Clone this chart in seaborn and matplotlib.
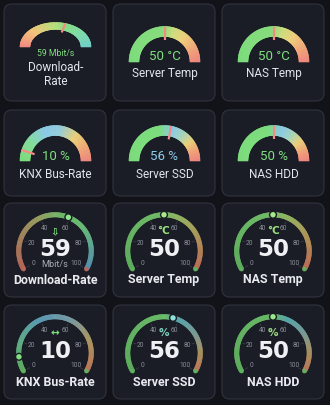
import numpy as np
import matplotlib
matplotlib.use("Agg")
import matplotlib.pyplot as plt
import seaborn as sns
from matplotlib.patches import FancyBboxPatch, Circle
from matplotlib.collections import PolyCollection
from matplotlib.colors import LinearSegmentedColormap

# ---------------- data ----------------
semi_titles = ["Download-\nRate", "Server Temp", "NAS Temp", "KNX Bus-Rate", "Server SSD", "NAS HDD"]
semi_values = [59, 50, 50, 10, 56, 50]
semi_units = ["Mbit/s", "°C", "°C", "%", "%", "%"]
semi_schemes = ["rainbow", "temp", "temp", "bus", "disk", "disk"]

dial_titles = ["Download-Rate", "Server Temp", "NAS Temp", "KNX Bus-Rate", "Server SSD", "NAS HDD"]
dial_values = [59, 50, 50, 10, 56, 50]
dial_icons = ["⇩", "°C", "°C", "↔", "%", "%"]
dial_subunits = ["Mbit/s", "", "", "", "", ""]
dial_schemes = ["rainbow", "temp", "temp", "bus", "disk", "disk"]
tick_labels = [0, 20, 40, 60, 80, 100]

# ---------------- style ----------------
BG = "#111318"
CARD = "#1b1d26"
EDGE = "#2e313b"
sns.set_theme(style="dark", rc={"figure.facecolor": BG, "axes.facecolor": BG})
plt.rcParams["font.family"] = ["Roboto", "DejaVu Sans"]

semi_stops = {
    "rainbow": [(0, "#f28b82"), (0.25, "#f5c57a"), (0.5, "#b8e27e"), (0.62, "#88e08a"),
                (0.8, "#7fdcaa"), (1, "#74cfc8")],
    "temp": [(0, "#7fe07f"), (0.48, "#8ae07f"), (0.6, "#d2e080"), (0.72, "#f2d27e"),
             (0.88, "#f3a57c"), (1, "#f28b82")],
    "bus": [(0, "#7fe07f"), (0.2, "#86e09c"), (0.4, "#8dcdec"), (0.55, "#98d0dc"),
            (0.72, "#ecd37c"), (0.88, "#f4a878"), (1, "#f28b82")],
    "disk": [(0, "#7fe07f"), (0.45, "#7fe07f"), (0.58, "#8dcdec"), (0.7, "#a8d8bc"),
             (0.8, "#ecd37c"), (0.92, "#f4a07a"), (1, "#f28b82")],
}
dial_stops = {
    "rainbow": [(0, "#b8665a"), (0.2, "#a8825c"), (0.38, "#9aa062"), (0.55, "#6fbf6a"),
                (0.7, "#6cbf78"), (0.85, "#5fa998"), (1, "#5890b0")],
    "temp": [(0, "#5fb05f"), (0.45, "#72c06a"), (0.55, "#8abf66"), (0.7, "#a8a85e"),
             (0.85, "#b88a58"), (1, "#c06e58")],
    "bus": [(0, "#5fb05f"), (0.2, "#62b08a"), (0.4, "#5d9db8"), (0.6, "#7a9ea8"),
            (0.8, "#b09a62"), (1, "#c0785a")],
    "disk": [(0, "#5fb05f"), (0.5, "#6cbf6a"), (0.6, "#5aa8b0"), (0.75, "#7e9e98"),
             (0.88, "#ae9460"), (1, "#c0785a")],
}
semi_value_colors = ["#7fe07f", "#7fe07f", "#7fe07f", "#7fe07f", "#8dcdec", "#7fe07f"]
dot_colors = ["#8fe68f", "#a6e88a", "#a6e88a", "#7fe07f", "#8fe0d8", "#9be88a"]
icon_colors = ["#7fe07f", "#9be07f", "#9be07f", "#7fe07f", "#7fd0c0", "#9be07f"]

W, H = 330, 405
fig = plt.figure(figsize=(3.3, 4.05), dpi=100)
ax = fig.add_axes([0, 0, 1, 1])
ax.set_xlim(0, W)
ax.set_ylim(0, H)
ax.axis("off")


def Y(y):
    return H - y


col_left = [4, 113, 222]
card_w = 102
row_top = [4, 110, 203, 305]
row_h = [97, 86, 94, 94]


def card(x, top, h):
    ax.add_patch(FancyBboxPatch((x, Y(top + h)), card_w, h,
                                boxstyle="round,pad=0,rounding_size=8",
                                fc=CARD, ec=EDGE, lw=0.9, zorder=1))


def grad_arc(cx, cy, r_in, r_out, a0, a1, stops, sy=1.0, n=140):
    cmap = LinearSegmentedColormap.from_list("g", stops)
    angs = np.radians(np.linspace(a0, a1, n + 1))
    polys, cols = [], []
    for i in range(n):
        ts = np.linspace(angs[i], angs[i + 1], 3)
        outer = [(cx + r_out * np.cos(t), cy + sy * r_out * np.sin(t)) for t in ts]
        inner = [(cx + r_in * np.cos(t), cy + sy * r_in * np.sin(t)) for t in ts[::-1]]
        polys.append(outer + inner)
        cols.append(cmap(i / (n - 1)))
    ax.add_collection(PolyCollection(polys, facecolors=cols, edgecolors=cols,
                                     linewidths=0.4, zorder=2))
    return cmap


# ---------------- semicircle gauges (rows 1-2) ----------------
for i in range(6):
    r, c = divmod(i, 3)
    x0, top, h = col_left[c], row_top[r], row_h[r]
    card(x0, top, h)
    cx = x0 + 51.5
    two_line = "\n" in semi_titles[i]
    if r == 0 and two_line:
        cy, sy = Y(47), 0.69
        val_y, val_fs = 53, 6.2
    elif r == 0:
        cy, sy = Y(62), 1.0
        val_y, val_fs = 57, 9.5
    else:
        cy, sy = Y(161), 1.0
        val_y, val_fs = 156, 9.5
    grad_arc(cx, cy, 25.5, 35.5, 180, 0, semi_stops[semi_schemes[i]], sy=sy)
    a = np.radians(180 - 1.8 * semi_values[i])
    ax.plot([cx + 22 * np.cos(a), cx + 35.5 * np.cos(a)],
            [cy + sy * 22 * np.sin(a), cy + sy * 35.5 * np.sin(a)],
            color="#f28b82", lw=1.6, solid_capstyle="butt", zorder=4)
    ax.text(cx, Y(val_y), f"{semi_values[i]} {semi_units[i]}", color=semi_value_colors[i],
            fontsize=val_fs, ha="center", va="center", zorder=5)
    if two_line:
        ax.text(cx, Y(74.5), semi_titles[i], color="#e2e5ec", fontsize=8.5,
                ha="center", va="center", linespacing=1.15, zorder=5)
    elif r == 0:
        ax.text(cx, Y(74), semi_titles[i], color="#e2e5ec", fontsize=8.5,
                ha="center", va="center", zorder=5)
    else:
        ax.text(cx, Y(174), semi_titles[i], color="#e2e5ec", fontsize=8.5,
                ha="center", va="center", zorder=5)

# ---------------- dial gauges (rows 3-4) ----------------
A0, SWEEP = 210, 240
for i in range(6):
    r, c = divmod(i, 3)
    r += 2
    x0, top, h = col_left[c], row_top[r], row_h[r]
    card(x0, top, h)
    cx = x0 + 51
    cy = Y(top + 48)
    stops = dial_stops[dial_schemes[i]]
    cmap = grad_arc(cx, cy, 34, 38.5, A0, A0 - SWEEP, stops)
    # rounded caps
    for frac, ang in [(0, A0), (1, A0 - SWEEP)]:
        t = np.radians(ang)
        ax.add_patch(Circle((cx + 36.25 * np.cos(t), cy + 36.25 * np.sin(t)), 2.25,
                            fc=cmap(frac), ec="none", zorder=2))
    # ticks + tick labels
    for tv in tick_labels:
        t = np.radians(A0 - SWEEP * tv / 100)
        ax.plot([cx + 29.5 * np.cos(t), cx + 32 * np.cos(t)],
                [cy + 29.5 * np.sin(t), cy + 32 * np.sin(t)],
                color="#363944", lw=0.7, zorder=2)
        ax.text(cx + 24.5 * np.cos(t), cy + 24.5 * np.sin(t), str(tv), color="#8a8e98",
                fontsize=4.8, ha="center", va="center", zorder=3)
    # value dot
    t = np.radians(A0 - SWEEP * dial_values[i] / 100)
    ax.add_patch(Circle((cx + 36.25 * np.cos(t), cy + 36.25 * np.sin(t)), 3.4,
                        fc=dot_colors[i], ec=CARD, lw=1.0, zorder=4))
    # icon
    ax.text(cx, Y(top + 28.5), dial_icons[i], color=icon_colors[i], fontsize=7.5,
            fontweight="bold", ha="center", va="center", zorder=5,
            family=["DejaVu Sans"])
    # big number
    ax.text(cx, Y(top + 53), str(dial_values[i]), color="#eef0f4", fontsize=16.5,
            fontweight="bold", ha="center", va="baseline", family=["DejaVu Sans"], zorder=5)
    if dial_subunits[i]:
        ax.text(cx, Y(top + 61.5), dial_subunits[i], color="#a8abb3", fontsize=6.6,
                ha="center", va="center", zorder=5)
    ax.text(cx, Y(top + 77), dial_titles[i], color="#e8eaf0", fontsize=8.9,
            fontweight="bold", ha="center", va="center", zorder=5)

fig.savefig("out.png", dpi=100, facecolor=BG)
